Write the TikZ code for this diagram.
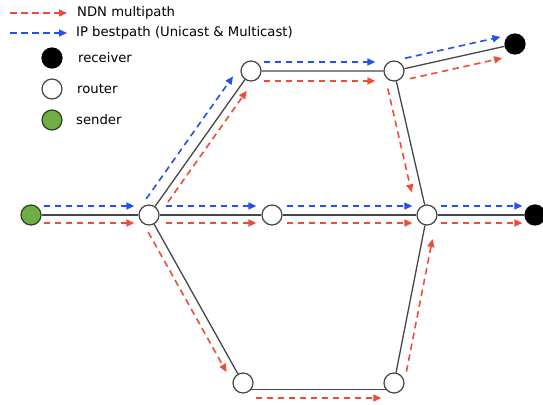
\documentclass[tikz,border=0pt]{standalone}
\usepackage{fontspec}
\setmainfont{DejaVu Sans}
\usepackage{xcolor}
\usepackage{tikz}
\usetikzlibrary{arrows.meta}

\definecolor{ndnred}{RGB}{238,76,52}
\definecolor{ipblue}{RGB}{36,82,232}
\definecolor{sendgreen}{RGB}{112,173,71}
\definecolor{linkgray}{RGB}{70,70,70}

\begin{document}
\begin{tikzpicture}[x=1pt, y=1pt,
    router/.style={circle, draw=linkgray, line width=1.2pt, fill=white, minimum size=20pt, inner sep=0pt},
    receiver/.style={router, draw=black, fill=black},
    sender/.style={router, draw=black!60!sendgreen, fill=sendgreen},
    link/.style={linkgray, line width=1.3pt},
    ndn/.style={ndnred, line width=1.6pt, dash pattern=on 6.5pt off 4.5pt, -{Triangle[length=8pt,width=7pt]}},
    ip/.style={ndn, ipblue},
    legend text/.style={anchor=base west, inner sep=0pt, font=\fontsize{13.2}{15}\selectfont}]
            \useasboundingbox (0,0) rectangle (543,404);
            % Legend
            \coordinate (ndnkey) at (10,391);
            \coordinate (ipkey) at (10,371);
            \node[legend text] (ndnlbl) at (77,387) {NDN multipath};
            \node[legend text] (iplbl) at (76,367) {IP bestpath (Unicast \& Multicast)};
            \draw[ndn, shorten >=10pt] (ndnkey) -- (ndnkey -| ndnlbl.west);
            \draw[ip, shorten >=9pt] (ipkey) -- (ipkey -| iplbl.west);
            \node[receiver] (keyrecv) at (52,346) {};
            \node[legend text] (recvlbl) at (78,341) {receiver};
            \node[router] (keyrtr) at (52,315) {};
            \node[legend text] (rtrlbl) at (77,310) {router};
            \node[sender] (keysend) at (52,284) {};
            \node[legend text] (sendlbl) at (76,279) {sender};
            % Hosts and routers
            \node[sender] (s) at (31,189) {};
            \node[router] (r1) at (149,189) {};
            \node[router] (r2) at (251,333) {};
            \node[router] (r3) at (394,333) {};
            \node[receiver] (d1) at (515,360) {};
            \node[router] (r4) at (272,189) {};
            \node[router] (r5) at (427,189) {};
            \node[receiver] (d2) at (535,189) {};
            \node[router] (r6) at (243,21) {};
            \node[router] (r7) at (394,21) {};
            % Links
            \draw[link] (s) -- (r1) -- (r4) -- (r5) -- (d2);
            \draw[link] (r1) -- (r2) -- (r3) -- (d1);
            \draw[link] (r3) -- (r5);
            \draw[link] (r1) -- (r6);
            \draw[link] (r6.-40) -- (r7.-140);
            \draw[link] (r7) -- (r5);
            % IP bestpath
            \draw[ip, shorten <=2pt, shorten >=4pt, transform canvas={yshift=9pt}] (s) -- (r1);
            \draw[ip, shorten <=1pt, shorten >=4pt, transform canvas={shift={(-9.5pt,6.6pt)}}] (r1) -- (r2);
            \draw[ip, shorten <=2pt, shorten >=8pt, transform canvas={yshift=9pt}] (r2) -- (r3);
            \draw[ip, shorten <=3pt, shorten >=2pt, transform canvas={shift={(-2.2pt,9.8pt)}}] (r3) -- (d1);
            \draw[ip, shorten <=6pt, shorten >=5pt, transform canvas={yshift=9pt}] (r1) -- (r4);
            \draw[ip, shorten <=4pt, shorten >=4pt, transform canvas={yshift=9pt}] (r4) -- (r5);
            \draw[ip, shorten <=3pt, shorten >=2pt, transform canvas={yshift=9pt}] (r5) -- (d2);
            % NDN multipath
            \draw[ndn, shorten <=2pt, shorten >=4pt, transform canvas={yshift=-8pt}] (s) -- (r1);
            \draw[ndn, shorten <=11pt, shorten >=8pt, transform canvas={shift={(6.5pt,-4.6pt)}}] (r1) -- (r2);
            \draw[ndn, shorten <=2pt, shorten >=8pt, transform canvas={yshift=-10pt}] (r2) -- (r3);
            \draw[ndn, shorten <=3pt, shorten >=5pt, transform canvas={shift={(2.4pt,-10.7pt)}}] (r3) -- (d1);
            \draw[ndn, shorten <=5pt, shorten >=15pt, transform canvas={shift={(-9.7pt,-2.3pt)}}] (r3) -- (r5);
            \draw[ndn, shorten <=6pt, shorten >=5pt, transform canvas={yshift=-8pt}] (r1) -- (r4);
            \draw[ndn, shorten <=4pt, shorten >=4pt, transform canvas={yshift=-8pt}] (r4) -- (r5);
            \draw[ndn, shorten <=3pt, shorten >=2pt, transform canvas={yshift=-8pt}] (r5) -- (d2);
            \draw[ndn, shorten <=4pt, shorten >=7pt, transform canvas={shift={(-7.9pt,-4.4pt)}}] (r1) -- (r6);
            \draw[ndn, shorten <=2pt, shorten >=2pt, transform canvas={yshift=-15pt}] (r6) -- (r7);
            \draw[ndn, shorten <=3pt, shorten >=12pt, transform canvas={shift={(9.8pt,-1.9pt)}}] (r7) -- (r5);
        \end{tikzpicture}
\end{document}
